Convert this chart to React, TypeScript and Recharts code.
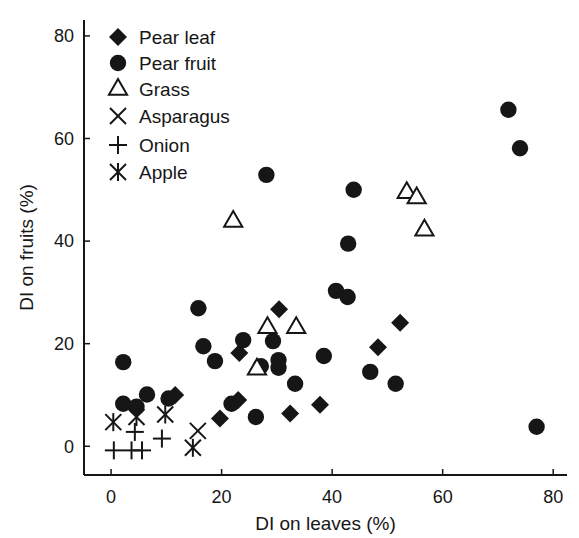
import React from 'react';
import { ScatterChart, Scatter, XAxis, YAxis, Legend } from 'recharts';

const FONT = '"Liberation Sans", Arial, Helvetica, sans-serif';
const INK = '#161616';

// Series values: [DI on leaves (%), DI on fruits (%)]
const pearLeaf: number[][] = [
  [30.4, 26.7], [23.2, 18.2], [23.0, 9.0], [19.7, 5.4], [32.4, 6.4],
  [37.8, 8.1], [11.6, 10.0], [52.3, 24.1], [48.3, 19.3],
];
const pearFruit: number[][] = [
  [71.9, 65.6], [74.0, 58.1], [77.0, 3.8], [28.1, 52.9], [43.9, 50.0],
  [42.9, 39.5], [40.7, 30.3], [42.8, 29.1], [38.5, 17.6], [46.9, 14.5],
  [51.5, 12.2], [15.8, 26.9], [23.9, 20.7], [29.3, 20.5], [16.7, 19.5],
  [18.8, 16.6], [30.3, 16.8], [30.3, 15.3], [27.1, 15.6], [33.3, 12.2],
  [21.8, 8.3], [26.2, 5.7], [2.2, 16.4], [6.5, 10.1], [10.4, 9.3],
  [2.2, 8.3], [4.6, 7.7],
];
const grass: number[][] = [
  [22.1, 43.8], [53.5, 49.4], [55.3, 48.4], [56.7, 42.1],
  [28.3, 23.1], [33.5, 23.1], [26.4, 15.0],
];
const asparagus: number[][] = [[15.7, 3.0]];
const onion: number[][] = [[0.5, -0.8], [3.7, -0.8], [5.6, -0.8], [9.2, 1.5], [4.3, 2.8]];
const apple: number[][] = [[0.4, 4.7], [4.6, 5.7], [9.8, 6.2], [14.8, -0.3]];

const seriesNames = ['Pear leaf', 'Pear fruit', 'Grass', 'Asparagus', 'Onion', 'Apple'];
const xTicks = [0, 20, 40, 60, 80];
const yTicks = [0, 20, 40, 60, 80];

const toRows = (arr: number[][]) => arr.map(([x, y]) => ({ x, y }));

type MP = { cx?: number; cy?: number };

const DiamondMark = ({ cx = 0, cy = 0 }: MP) => (
  <polygon points={`${cx},${cy - 9} ${cx + 9},${cy} ${cx},${cy + 9} ${cx - 9},${cy}`} fill={INK} />
);
const CircleMark = ({ cx = 0, cy = 0 }: MP) => <circle cx={cx} cy={cy} r={8.2} fill={INK} />;
const TriangleMark = ({ cx = 0, cy = 0 }: MP) => {
  const r = 10.5;
  const xc = (r * Math.sqrt(3)) / 2;
  return (
    <polygon
      points={`${cx},${cy - r} ${cx + xc},${cy + r / 2} ${cx - xc},${cy + r / 2}`}
      fill="#fff"
      stroke={INK}
      strokeWidth={2}
      strokeLinejoin="miter"
    />
  );
};
const CrossMark = ({ cx = 0, cy = 0 }: MP) => {
  const h = 8;
  return (
    <g stroke={INK} strokeWidth={2}>
      <line x1={cx - h} y1={cy - h} x2={cx + h} y2={cy + h} />
      <line x1={cx - h} y1={cy + h} x2={cx + h} y2={cy - h} />
    </g>
  );
};
const PlusMark = ({ cx = 0, cy = 0 }: MP) => {
  const h = 9;
  return (
    <g stroke={INK} strokeWidth={2}>
      <line x1={cx - h} y1={cy} x2={cx + h} y2={cy} />
      <line x1={cx} y1={cy - h} x2={cx} y2={cy + h} />
    </g>
  );
};
const AppleMark = ({ cx = 0, cy = 0 }: MP) => {
  const h = 8;
  return (
    <g stroke={INK} strokeWidth={2}>
      <line x1={cx - h} y1={cy - h} x2={cx + h} y2={cy + h} />
      <line x1={cx - h} y1={cy + h} x2={cx + h} y2={cy - h} />
      <line x1={cx} y1={cy - 9} x2={cx} y2={cy + 9} />
    </g>
  );
};

const marks = [DiamondMark, CircleMark, TriangleMark, CrossMark, PlusMark, AppleMark];
const legendY = [37, 63, 89.5, 116, 145, 172];

const LegendContent = () => (
  <svg width={260} height={200} style={{ display: 'block' }}>
    {seriesNames.map((name, i) => {
      const M = marks[i];
      return (
        <g key={name}>
          <M cx={118} cy={legendY[i]} />
          <text
            x={139}
            y={legendY[i] + 6.8}
            fontSize={19}
            fontFamily={FONT}
            fill={INK}
          >
            {name}
          </text>
        </g>
      );
    })}
  </svg>
);

const XTitle = (props: any) => {
  const vb = props.viewBox || {};
  return (
    <text
      x={vb.x + vb.width / 2}
      y={530}
      textAnchor="middle"
      fontSize={19}
      fontFamily={FONT}
      fill={INK}
    >
      DI on leaves (%)
    </text>
  );
};

const YTitle = (props: any) => {
  const vb = props.viewBox || {};
  const cx = 33;
  const cy = vb.y + vb.height / 2;
  return (
    <text
      x={cx}
      y={cy}
      textAnchor="middle"
      transform={`rotate(-90 ${cx} ${cy})`}
      fontSize={19}
      fontFamily={FONT}
      fill={INK}
    >
      DI on fruits (%)
    </text>
  );
};

export default function App() {
  const seriesData = [pearLeaf, pearFruit, grass, asparagus, onion, apple];
  return (
    <div style={{ position: 'absolute', left: 0, top: 0, width: 579, height: 538, background: '#fff' }}>
      <ScatterChart
        width={579}
        height={538}
        margin={{ top: 20, right: 12, bottom: 5, left: 0 }}
      >
        <XAxis
          type="number"
          dataKey="x"
          domain={[-4.9, 82.5]}
          ticks={xTicks}
          allowDataOverflow
          height={58}
          tickSize={-6}
          tickMargin={21}
          axisLine={{ stroke: INK, strokeWidth: 2 }}
          tickLine={{ stroke: INK, strokeWidth: 1.5 }}
          tick={{ fontSize: 18, fill: INK, fontFamily: FONT }}
          label={{ content: XTitle }}
        />
        <YAxis
          type="number"
          dataKey="y"
          domain={[-5.6, 83.1]}
          ticks={yTicks}
          allowDataOverflow
          width={84}
          tickSize={-6}
          tickMargin={16}
          axisLine={{ stroke: INK, strokeWidth: 2 }}
          tickLine={{ stroke: INK, strokeWidth: 1.5 }}
          tick={{ fontSize: 18, fill: INK, fontFamily: FONT }}
          label={{ content: YTitle }}
        />
        {seriesData.map((arr, i) => (
          <Scatter
            key={seriesNames[i]}
            name={seriesNames[i]}
            data={toRows(arr)}
            shape={marks[i] as any}
            isAnimationActive={false}
          />
        ))}
        <Legend
          layout="vertical"
          align="center"
          verticalAlign="middle"
          content={LegendContent}
          wrapperStyle={{ position: 'absolute', left: 0, top: 0, width: 260, height: 200 }}
        />
      </ScatterChart>
    </div>
  );
}
